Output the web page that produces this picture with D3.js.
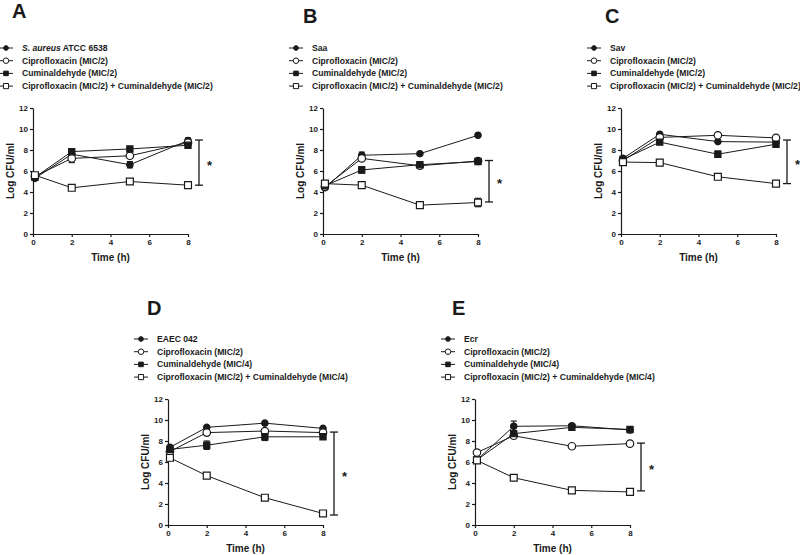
<!DOCTYPE html>
<html><head><meta charset="utf-8">
<script src="https://cdn.jsdelivr.net/npm/d3@7"></script>
<style>
body{margin:0;background:#fff;}
svg{display:block;font-family:"Liberation Sans",Arial,sans-serif;}
</style></head>
<body>
<svg id="chart" width="800" height="555"></svg>
<script>
// ---------- data ----------
const times = [0.1, 2, 5, 8];
const xTicks = [0, 2, 4, 6, 8];
const yTicks = [0, 2, 4, 6, 8, 10, 12];
const panelLetters = ["A", "B", "C", "D", "E"];
const strainLabels = ["S. aureus|ATCC 6538", "Saa", "Sav", "EAEC 042", "Ecr"];
const ciproLabel = "Ciprofloxacin (MIC/2)";
const cumLabels = ["Cuminaldehyde (MIC/2)", "Cuminaldehyde (MIC/2)", "Cuminaldehyde (MIC/2)", "Cuminaldehyde (MIC/4)", "Cuminaldehyde (MIC/4)"];
const comboLabels = ["Ciprofloxacin (MIC/2) + Cuminaldehyde (MIC/2)", "Ciprofloxacin (MIC/2) + Cuminaldehyde (MIC/2)", "Ciprofloxacin (MIC/2) + Cuminaldehyde (MIC/2)", "Ciprofloxacin (MIC/2) + Cuminaldehyde (MIC/4)", "Ciprofloxacin (MIC/2) + Cuminaldehyde (MIC/4)"];

// Log CFU/ml, one row per panel (A..E), columns = times
const controlValues = [[5.3, 7.6, 6.6, 8.9], [4.4, 7.5, 7.65, 9.4], [7.2, 9.5, 8.8, 8.75], [7.4, 9.3, 9.7, 9.2], [6.2, 9.4, 9.45, 9.05]];
const ciproValues   = [[5.5, 7.2, 7.45, 8.7], [4.5, 7.2, 6.5, 6.95], [7.0, 9.2, 9.4, 9.15], [7.0, 8.8, 8.95, 8.8], [6.9, 8.5, 7.5, 7.75]];
const cumValues     = [[5.4, 7.85, 8.1, 8.45], [4.6, 6.1, 6.6, 6.9], [7.1, 8.75, 7.6, 8.55], [7.2, 7.6, 8.4, 8.4], [6.2, 8.7, 9.3, 9.1]];
const comboValues   = [[5.6, 4.4, 5.0, 4.65], [4.8, 4.65, 2.75, 3.0], [6.85, 6.8, 5.45, 4.8], [6.4, 4.7, 2.6, 1.1], [6.15, 4.5, 3.3, 3.15]];

const controlErr = [[0, 0.15, 0.3, 0.25], [0, 0.3, 0, 0], [0, 0, 0, 0], [0, 0, 0, 0], [0, 0.5, 0.15, 0]];
const ciproErr   = [[0, 0.4, 0, 0], [0, 0, 0, 0], [0, 0, 0, 0], [0, 0, 0, 0], [0, 0, 0, 0.2]];
const cumErr     = [[0, 0.2, 0, 0], [0, 0.3, 0, 0], [0, 0, 0.3, 0], [0, 0.4, 0.35, 0], [0, 0, 0.2, 0]];
const comboErr   = [[0, 0, 0.2, 0], [0, 0, 0, 0.4], [0, 0, 0, 0], [0, 0, 0, 0], [0, 0.25, 0, 0]];

// significance brackets (top, bottom) in Log CFU/ml
const sigTop    = [8.95, 7.0, 8.95, 8.85, 7.8];
const sigBottom = [4.65, 3.05, 4.8, 0.95, 3.25];

// ---------- layout ----------
const panelOrigin = [[33, 234], [323, 234], [621, 234], [168, 525], [475, 525]];
const letterPos = [[12, 18], [303, 23], [605, 23], [147, 315], [452, 315]];
const plotW = 155, plotH = 126;
const ink = "#1a1a1a";

const svg = d3.select("#chart");

const markerTypes = [
  {shape: d3.symbolCircle, size: 32, fill: ink},
  {shape: d3.symbolCircle, size: 44, fill: "#fff"},
  {shape: d3.symbolSquare, size: 38, fill: ink},
  {shape: d3.symbolSquare, size: 48, fill: "#fff"}
];

panelLetters.forEach((letter, p) => {
  const [ox, oy] = panelOrigin[p];
  const x = d3.scaleLinear().domain([0, 8]).range([ox, ox + plotW]);
  const y = d3.scaleLinear().domain([0, 12]).range([oy, oy - plotH]);
  const g = svg.append("g");

  // panel letter
  g.append("text").attr("x", letterPos[p][0]).attr("y", letterPos[p][1])
    .attr("font-size", 20).attr("font-weight", "bold").attr("fill", ink).text(letter);

  // legend
  const legendLabels = [strainLabels[p], ciproLabel, cumLabels[p], comboLabels[p]];
  const legTop = y(12) - 60;
  legendLabels.forEach((lab, i) => {
    const ly = legTop + i * 12.7;
    g.append("line").attr("x1", ox - 34).attr("x2", ox - 20).attr("y1", ly).attr("y2", ly)
      .attr("stroke", ink).attr("stroke-width", 1);
    const m = markerTypes[i];
    g.append("path").attr("d", d3.symbol().type(m.shape).size(m.size * 0.55)())
      .attr("transform", `translate(${ox - 27},${ly})`)
      .attr("fill", m.fill).attr("stroke", ink).attr("stroke-width", 1);
    const t = g.append("text").attr("x", ox - 11).attr("y", ly + 3)
      .attr("font-size", 8.6).attr("font-weight", "bold").attr("fill", ink);
    if (lab.includes("|")) {
      const [it, rest] = lab.split("|");
      t.append("tspan").attr("font-style", "italic").text(it);
      t.append("tspan").text(" " + rest);
    } else t.text(lab);
  });

  // axes
  const yAxis = d3.axisLeft(y).tickValues(yTicks).tickSize(3).tickPadding(2).tickSizeOuter(0);
  const xAxis = d3.axisBottom(x).tickValues(xTicks).tickSize(3).tickPadding(2).tickSizeOuter(0);
  const ya = g.append("g").attr("transform", `translate(${ox},0)`).call(yAxis);
  const xa = g.append("g").attr("transform", `translate(0,${oy})`).call(xAxis);
  [ya, xa].forEach(a => {
    a.select(".domain").attr("stroke", ink).attr("stroke-width", 1.2);
    a.selectAll(".tick line").attr("stroke", ink).attr("stroke-width", 1.2);
    a.selectAll(".tick text").attr("font-size", 8).attr("font-weight", "bold").attr("fill", ink)
      .attr("font-family", "Liberation Sans, Arial, sans-serif");
  });

  // axis titles
  g.append("text").attr("transform", `translate(${ox - 19},${(y(0) + y(12)) / 2}) rotate(-90)`)
    .attr("text-anchor", "middle").attr("font-size", 10).attr("font-weight", "bold").attr("fill", ink)
    .text("Log CFU/ml");
  g.append("text").attr("x", (x(0) + x(8)) / 2).attr("y", oy + 27)
    .attr("text-anchor", "middle").attr("font-size", 10).attr("font-weight", "bold").attr("fill", ink)
    .text("Time (h)");

  // series
  const series = [
    {v: controlValues[p], e: controlErr[p]},
    {v: ciproValues[p], e: ciproErr[p]},
    {v: cumValues[p], e: cumErr[p]},
    {v: comboValues[p], e: comboErr[p]}
  ];
  const line = d3.line().x((d, i) => x(times[i])).y(d => y(d));
  series.forEach(s => {
    g.append("path").attr("d", line(s.v)).attr("fill", "none").attr("stroke", ink).attr("stroke-width", 1);
  });
  series.forEach(s => {
    s.v.forEach((v, i) => {
      const e = s.e[i];
      if (e > 0) {
        const cx = x(times[i]);
        g.append("line").attr("x1", cx).attr("x2", cx).attr("y1", y(v - e)).attr("y2", y(v + e))
          .attr("stroke", ink).attr("stroke-width", 1.2);
        [v - e, v + e].forEach(ev => g.append("line").attr("x1", cx - 3).attr("x2", cx + 3)
          .attr("y1", y(ev)).attr("y2", y(ev)).attr("stroke", ink).attr("stroke-width", 1.2));
      }
    });
  });
  series.forEach((s, k) => {
    const m = markerTypes[k];
    g.selectAll(null).data(s.v).enter().append("path")
      .attr("d", d3.symbol().type(m.shape).size(m.size)())
      .attr("transform", (d, i) => `translate(${x(times[i])},${y(d)})`)
      .attr("fill", m.fill).attr("stroke", ink).attr("stroke-width", 1.2);
  });

  // significance bracket
  const bx = x(8) + 11;
  g.append("line").attr("x1", bx).attr("x2", bx).attr("y1", y(sigTop[p])).attr("y2", y(sigBottom[p]))
    .attr("stroke", ink).attr("stroke-width", 1.3);
  [sigTop[p], sigBottom[p]].forEach(v => g.append("line").attr("x1", bx - 4).attr("x2", bx + 4)
    .attr("y1", y(v)).attr("y2", y(v)).attr("stroke", ink).attr("stroke-width", 1.3));
  g.append("text").attr("x", bx + 8).attr("y", (y(sigTop[p]) + y(sigBottom[p])) / 2 + 7)
    .attr("font-size", 13).attr("font-weight", "bold").attr("fill", ink).text("*");
});
</script>
</body></html>
